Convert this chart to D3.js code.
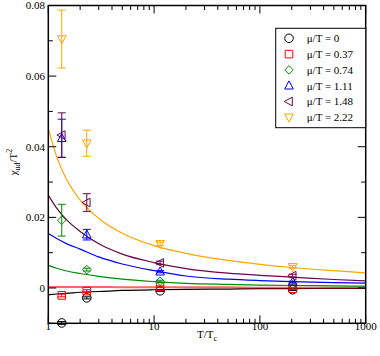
<!DOCTYPE html>
<html>
<head>
<meta charset="utf-8">
<script src="https://cdn.jsdelivr.net/npm/d3@7"></script>
<style>
  body { margin: 0; background: #fff; }
  text { font-family: "Liberation Serif", "DejaVu Serif", serif; }
</style>
</head>
<body>
<div id="chart"></div>
<script>
// data
var labels = ['\u03bc/T = 0', '\u03bc/T = 0.37', '\u03bc/T = 0.74', '\u03bc/T = 1.11', '\u03bc/T = 1.48', '\u03bc/T = 2.22'];
var colors = ['#000000', '#ff0000', '#008b00', '#0000ff', '#670748', '#ffa500'];
var symbols = ['circle', 'square', 'diamond', 'up', 'left', 'down'];

// lattice points
var pointT = [1.34, 2.31, 11.4, 204];
var pointVal = [
  [-0.0099, -0.0028, -0.0008, -0.0005],
  [-0.0021, -0.0009, 0.0004, -0.0002],
  [0.0192, 0.0052, 0.0019, 0.0010],
  [0.0424, 0.0151, 0.0046, 0.0017],
  [0.0433, 0.0242, 0.0071, 0.0035],
  [0.0705, 0.0410, 0.0125, 0.0060]
];
var pointErr = [
  [0.0004, 0.0003, 0.0002, 0.0002],
  [0.0004, 0.0004, 0.0002, 0.0002],
  [0.0045, 0.0004, 0.0003, 0.0002],
  [0.0054, 0.0015, 0.0003, 0.0002],
  [0.0063, 0.0025, 0.0005, 0.0004],
  [0.0082, 0.0037, 0.0005, 0.0004]
];

// perturbative curves, sampled
var curveT = [1, 1.2, 1.5, 2, 3, 5, 10, 20, 50, 100, 200, 500, 1000];
var curveVal = [
  [-0.0019, -0.0017, -0.0015, -0.0012, -0.0010, -0.0007, -0.0005, -0.0004, -0.0003, -0.0002, -0.0002, -0.0001, -0.0001],
  [0.0003, 0.0003, 0.0003, 0.0003, 0.0003, 0.0002, 0.0002, 0.0002, 0.0002, 0.0001, 0.0001, 0.0001, 0.0001],
  [0.0064, 0.0056, 0.0048, 0.0041, 0.0033, 0.0025, 0.0018, 0.0013, 0.0010, 0.0008, 0.0007, 0.0006, 0.0005],
  [0.0154, 0.0140, 0.0125, 0.0110, 0.0088, 0.0068, 0.0049, 0.0034, 0.0025, 0.0021, 0.0018, 0.0015, 0.0014],
  [0.0263, 0.0226, 0.0192, 0.0160, 0.0125, 0.0096, 0.0072, 0.0055, 0.0042, 0.0036, 0.0031, 0.0024, 0.0020],
  [0.0452, 0.0372, 0.0306, 0.0249, 0.0197, 0.0155, 0.0120, 0.0098, 0.0078, 0.0067, 0.0058, 0.0049, 0.0043]
];

var yTicks = [0, 0.02, 0.04, 0.06, 0.08];
var yMinor = [-0.01, 0.01, 0.03, 0.05, 0.07];
var xTicks = [1, 10, 100, 1000];

var W = 380, H = 356;
var mLeft = 48.3, mRight = 365.7, mTop = 5.5, mBottom = 323.3;

var svg = d3.select('#chart').append('svg')
  .attr('width', W).attr('height', H);

var x = d3.scaleLog().domain([1, 1000]).range([mLeft, mRight]);
var y = d3.scaleLinear().domain([-0.01, 0.08]).range([mBottom, mTop]);

var xMinor = [];
[1, 10, 100].forEach(function(d) {
  for (var k = 2; k <= 9; k++) xMinor.push(d * k);
});

var plot = svg.append('g');

// curves
var line = d3.line()
  .x(function(d) { return x(d[0]); })
  .y(function(d) { return y(d[1]); })
  .curve(d3.curveMonotoneX);

curveVal.forEach(function(vals, i) {
  plot.append('path')
    .datum(curveT.map(function(t, j) { return [t, vals[j]]; }))
    .attr('d', line)
    .attr('fill', 'none')
    .attr('stroke', colors[i])
    .attr('stroke-opacity', i == 1 ? 0.6 : 1)
    .attr('stroke-width', i == 1 ? 2 : 1.2);
});

function symbolPath(g, type, cx, cy, color) {
  var r = 4.3;
  if (type == 'circle') {
    g.append('circle').attr('cx', cx).attr('cy', cy).attr('r', r)
      .attr('fill', 'none').attr('stroke', color);
    return;
  }
  var pts;
  if (type == 'square') pts = [[-r + 0.5, -r + 0.5], [r - 0.5, -r + 0.5], [r - 0.5, r - 0.5], [-r + 0.5, r - 0.5]];
  if (type == 'diamond') pts = [[0, -r], [r, 0], [0, r], [-r, 0]];
  if (type == 'up') pts = [[0, -r - 0.5], [r, r - 1], [-r, r - 1]];
  if (type == 'down') pts = [[0, r + 0.5], [r, -r + 1], [-r, -r + 1]];
  if (type == 'left') pts = [[-r - 0.5, 0], [r - 1, -r], [r - 1, r]];
  g.append('polygon')
    .attr('points', pts.map(function(p) { return (cx + p[0]) + ',' + (cy + p[1]); }).join(' '))
    .attr('fill', 'none').attr('stroke', color);
}

// error bars + symbols
pointVal.forEach(function(vals, i) {
  var g = plot.append('g');
  vals.forEach(function(v, j) {
    var cx = x(pointT[j]);
    var hi = y(v + pointErr[i][j]), lo = y(v - pointErr[i][j]);
    g.append('line').attr('x1', cx).attr('x2', cx).attr('y1', hi).attr('y2', lo)
      .attr('stroke', colors[i]);
    [hi, lo].forEach(function(yy) {
      g.append('line').attr('x1', cx - 4).attr('x2', cx + 4).attr('y1', yy).attr('y2', yy)
        .attr('stroke', colors[i]);
    });
    symbolPath(g, symbols[i], cx, y(v), colors[i]);
  });
});

// frame
svg.append('rect')
  .attr('x', mLeft).attr('y', mTop)
  .attr('width', mRight - mLeft).attr('height', mBottom - mTop)
  .attr('fill', 'none').attr('stroke', '#000').attr('stroke-width', 1.5);

var ax = svg.append('g').attr('stroke', '#000').attr('stroke-width', 1);

// x ticks (bottom and top, inward)
xTicks.forEach(function(t) {
  ax.append('line').attr('x1', x(t)).attr('x2', x(t)).attr('y1', mBottom).attr('y2', mBottom - 8);
  ax.append('line').attr('x1', x(t)).attr('x2', x(t)).attr('y1', mTop).attr('y2', mTop + 8);
});
xMinor.forEach(function(t) {
  ax.append('line').attr('x1', x(t)).attr('x2', x(t)).attr('y1', mBottom).attr('y2', mBottom - 4.5);
  ax.append('line').attr('x1', x(t)).attr('x2', x(t)).attr('y1', mTop).attr('y2', mTop + 4.5);
});
yTicks.forEach(function(t) {
  ax.append('line').attr('x1', mLeft).attr('x2', mLeft + 8).attr('y1', y(t)).attr('y2', y(t));
  ax.append('line').attr('x1', mRight).attr('x2', mRight - 8).attr('y1', y(t)).attr('y2', y(t));
});
yMinor.forEach(function(t) {
  ax.append('line').attr('x1', mLeft).attr('x2', mLeft + 4.5).attr('y1', y(t)).attr('y2', y(t));
  ax.append('line').attr('x1', mRight).attr('x2', mRight - 4.5).attr('y1', y(t)).attr('y2', y(t));
});

// tick labels
svg.selectAll('.xl').data(xTicks).enter().append('text')
  .attr('x', function(d) { return x(d); })
  .attr('y', 329.5)
  .attr('text-anchor', 'middle')
  .attr('font-size', 11)
  .text(function(d) { return d; });

svg.selectAll('.yl').data(yTicks).enter().append('text')
  .attr('x', 45)
  .attr('y', function(d) { return y(d) + 3.8; })
  .attr('text-anchor', 'end')
  .attr('font-size', 11)
  .text(function(d) { return d == 0 ? '0' : d.toFixed(2); });

// axis titles
var xt = svg.append('text')
  .attr('x', 207).attr('y', 337.5)
  .attr('text-anchor', 'middle')
  .attr('font-size', 11);
xt.append('tspan').text('T/T');
xt.append('tspan').attr('font-size', 8).attr('dy', 3).text('c');

var yt = svg.append('text')
  .attr('transform', 'translate(17,162) rotate(-90)')
  .attr('text-anchor', 'middle')
  .attr('font-size', 11);
yt.append('tspan').text('\u03c7');
yt.append('tspan').attr('font-size', 8).attr('dy', 3).text('ud');
yt.append('tspan').attr('dy', -3).text('/T');
yt.append('tspan').attr('font-size', 8).attr('dy', -5).text('2');

// legend
var lg = svg.append('g');
lg.append('rect')
  .attr('x', 275.7).attr('y', 28.3)
  .attr('width', mRight - 275.7).attr('height', 99.4)
  .attr('fill', '#fff').attr('stroke', '#000').attr('stroke-width', 1);
labels.forEach(function(lab, i) {
  var cy = 38.3 + i * 15.8;
  symbolPath(lg, symbols[i], 289, cy, colors[i]);
  lg.append('text')
    .attr('x', 306.7).attr('y', cy + 3.8)
    .attr('font-size', 11)
    .text(lab);
});
</script>
</body>
</html>
